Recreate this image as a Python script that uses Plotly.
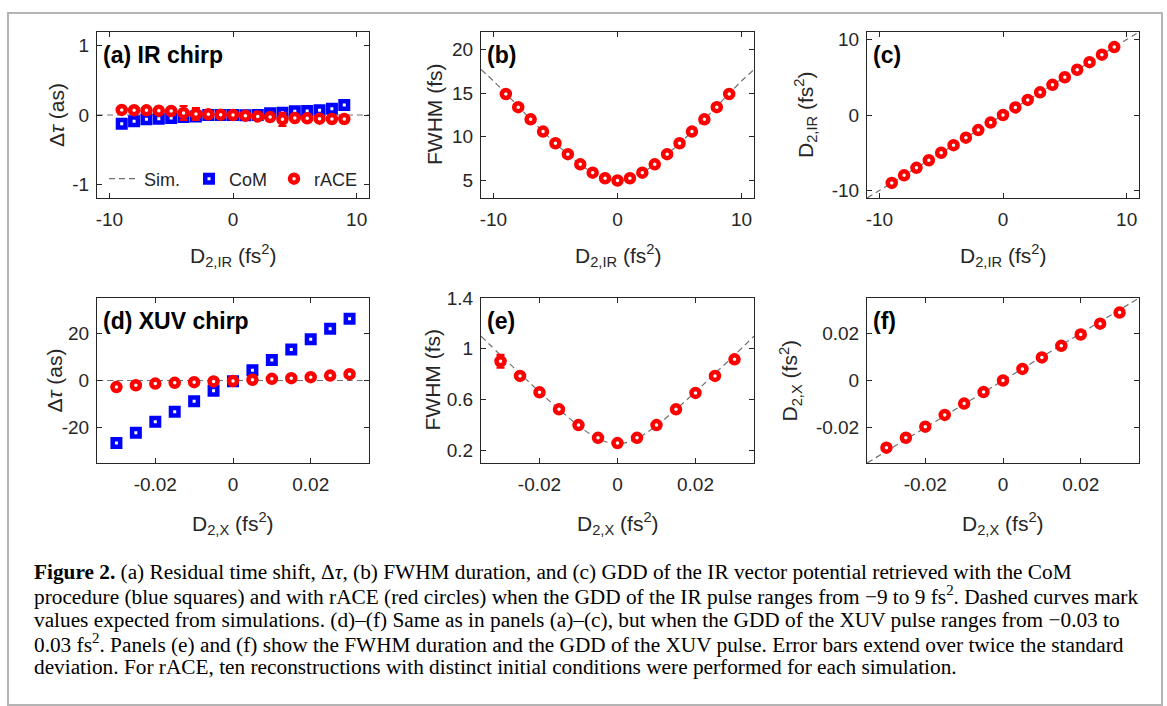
import plotly.graph_objects as go

# ---------------- data ----------------
# IR chirp (panels a-c)
d2_ir = [-9, -8, -7, -6, -5, -4, -3, -2, -1, 0, 1, 2, 3, 4, 5, 6, 7, 8, 9]
com_dtau_ir = [-0.127, -0.092, -0.063, -0.053, -0.044, -0.030, -0.020, 0.000, 0.000, 0.000,
               -0.005, 0.000, 0.024, 0.034, 0.053, 0.058, 0.068, 0.092, 0.146]
com_dtau_ir_err = [0.012, 0.012, 0.012, 0.012, 0.012, 0.012, 0.012, 0.012, 0.012, 0.012,
                   0.012, 0.012, 0.012, 0.015, 0.012, 0.012, 0.012, 0.015, 0.015]
race_dtau_ir = [0.073, 0.070, 0.068, 0.063, 0.058, 0.030, 0.015, 0.010, 0.005, 0.000,
                -0.010, -0.020, -0.030, -0.063, -0.044, -0.048, -0.053, -0.058, -0.058]
race_dtau_ir_err = [0.012, 0.012, 0.015, 0.012, 0.015, 0.100, 0.085, 0.012, 0.012, 0.012,
                    0.012, 0.012, 0.012, 0.095, 0.012, 0.012, 0.012, 0.012, 0.012]
race_fwhm_ir = [14.9, 13.4, 12.0, 10.6, 9.27, 8.02, 6.85, 5.9, 5.26, 5.0,
                5.26, 5.9, 6.85, 8.02, 9.27, 10.6, 12.0, 13.4, 14.9]
race_fwhm_ir_err = [0.12] * 19
race_gdd_ir = [-9.0, -8.0, -7.0, -6.0, -5.0, -4.0, -3.0, -2.0, -1.0, 0.0,
               1.0, 2.0, 3.0, 4.0, 5.0, 6.0, 7.0, 8.0, 9.0]
race_gdd_ir_err = [0.08] * 19

# simulation curves (IR)
sim_ir_x = [-11, -10, -9, -8, -7, -6, -5, -4, -3, -2, -1, 0, 1, 2, 3, 4, 5, 6, 7, 8, 9, 10, 11]
sim_dtau_ir = [0.0] * 23
sim_fwhm_ir = [17.7, 16.4, 14.95, 13.5, 12.0, 10.6, 9.25, 8.0, 6.85, 5.9, 5.24, 5.0,
               5.24, 5.9, 6.85, 8.0, 9.25, 10.6, 12.0, 13.5, 14.95, 16.4, 17.7]
sim_gdd_ir = [-11, -10, -9, -8, -7, -6, -5, -4, -3, -2, -1, 0, 1, 2, 3, 4, 5, 6, 7, 8, 9, 10, 11]

# XUV chirp (panels d-f)
d2_x = [-0.03, -0.025, -0.02, -0.015, -0.01, -0.005, 0.0, 0.005, 0.01, 0.015, 0.02, 0.025, 0.03]
com_dtau_x = [-26.5, -22.2, -17.5, -13.3, -8.8, -4.35, -0.3, 4.35, 8.7, 13.2, 17.5, 22.0, 26.2]
com_dtau_x_err = [0.4] * 13
race_dtau_x = [-2.8, -2.0, -1.3, -1.0, -0.7, -0.4, -0.2, 0.3, 0.7, 1.0, 1.4, 2.1, 2.7]
race_dtau_x_err = [0.4] * 13
race_fwhm_x = [0.902, 0.786, 0.657, 0.523, 0.399, 0.298, 0.257, 0.298, 0.399, 0.523, 0.652, 0.786, 0.917]
race_fwhm_x_err = [0.05, 0.008, 0.008, 0.008, 0.008, 0.008, 0.008, 0.008, 0.008, 0.008, 0.008, 0.008, 0.008]
race_gdd_x = [-0.0285, -0.0243, -0.0196, -0.0146, -0.0098, -0.0049, 0.0, 0.0049, 0.0098,
              0.0147, 0.0195, 0.0241, 0.0288]
race_gdd_x_err = [0.0012, 0.0003, 0.0003, 0.0003, 0.0003, 0.0003, 0.0003, 0.0003, 0.0003,
                  0.0003, 0.0003, 0.0003, 0.0003]

sim_x_x = [-0.035, -0.03, -0.025, -0.02, -0.015, -0.01, -0.005, 0.0,
           0.005, 0.01, 0.015, 0.02, 0.025, 0.03, 0.035]
sim_dtau_x = [0.0] * 15
sim_fwhm_x = [1.10, 0.95, 0.805, 0.66, 0.523, 0.395, 0.293, 0.25,
              0.293, 0.395, 0.523, 0.66, 0.805, 0.95, 1.10]
sim_gdd_x = [-0.035, -0.03, -0.025, -0.02, -0.015, -0.01, -0.005, 0.0,
             0.005, 0.01, 0.015, 0.02, 0.025, 0.03, 0.035]

# tick labels
ir_ticks = [-10, 0, 10]
ir_ticktext = ["-10", "0", "10"]
dtau_ir_ticks = [-1, 0, 1]
dtau_ir_ticktext = ["-1", "0", "1"]
fwhm_ir_ticks = [5, 10, 15, 20]
fwhm_ir_ticktext = ["5", "10", "15", "20"]
x_ticks = [-0.02, 0, 0.02]
x_ticktext = ["-0.02", "0", "0.02"]
dtau_x_ticks = [-20, 0, 20]
dtau_x_ticktext = ["-20", "0", "20"]
fwhm_x_ticks = [0.2, 0.6, 1.0, 1.4]
fwhm_x_ticktext = ["0.2", "0.6", "1", "1.4"]

panel_labels = ["(a) IR chirp", "(b)", "(c)", "(d) XUV chirp", "(e)", "(f)"]
caption_lines = [
    "<b>Figure 2.</b> (a) Residual time shift, Δ<i>τ</i>, (b) FWHM duration, and (c) GDD of the IR vector potential retrieved with the CoM",
    "procedure (blue squares) and with rACE (red circles) when the GDD of the IR pulse ranges from −9 to 9 fs<sup>2</sup>. Dashed curves mark",
    "values expected from simulations. (d)–(f) Same as in panels (a)–(c), but when the GDD of the XUV pulse ranges from −0.03 to",
    "0.03 fs<sup>2</sup>. Panels (e) and (f) show the FWHM duration and the GDD of the XUV pulse. Error bars extend over twice the standard",
    "deviation. For rACE, ten reconstructions with distinct initial conditions were performed for each simulation.",
]

# ---------------- layout geometry (pixels) ----------------
W, H = 1167, 706
cols_px = [(97, 369), (481, 754), (867, 1139)]
rows_px = [(32, 198), (298, 463)]

def px_x(v):
    return v / W

def px_y(v):
    return 1 - v / H

RED = "#ff0000"
BLUE = "#0000ff"
SIMC = "#707070"
AXC = "#262626"
FONT = "Arial, Liberation Sans, Helvetica, sans-serif"

fig = go.Figure()

def sim_trace(x, y, idx, show=False):
    return go.Scatter(x=x, y=y, mode="lines", name="Sim.", showlegend=show,
                      line=dict(color=SIMC, width=1.2, dash="6px,4px", shape="spline"),
                      xaxis="x" + ("" if idx == 1 else str(idx)),
                      yaxis="y" + ("" if idx == 1 else str(idx)),
                      legendrank=1)

def data_trace(x, y, err, idx, name, color, symbol, size, show=False, rank=2):
    return go.Scatter(x=x, y=y, mode="markers", name=name, showlegend=show,
                      marker=dict(symbol=symbol, size=size, color="white",
                                  line=dict(color=color, width=4.5)),
                      error_y=dict(type="data", array=err, visible=True, color=color,
                                   thickness=2.2, width=4),
                      xaxis="x" + ("" if idx == 1 else str(idx)),
                      yaxis="y" + ("" if idx == 1 else str(idx)),
                      legendrank=rank)

# panel a
fig.add_trace(sim_trace(sim_ir_x, sim_dtau_ir, 1, show=True))
fig.add_trace(data_trace(d2_ir, com_dtau_ir, com_dtau_ir_err, 1, "CoM", BLUE, "square", 7.5, show=True, rank=2))
fig.add_trace(data_trace(d2_ir, race_dtau_ir, race_dtau_ir_err, 1, "rACE", RED, "circle", 8, show=True, rank=3))
# panel b
fig.add_trace(sim_trace(sim_ir_x, sim_fwhm_ir, 2))
fig.add_trace(data_trace(d2_ir, race_fwhm_ir, race_fwhm_ir_err, 2, "rACE", RED, "circle", 8))
# panel c
fig.add_trace(sim_trace(sim_ir_x, sim_gdd_ir, 3))
fig.add_trace(data_trace(d2_ir, race_gdd_ir, race_gdd_ir_err, 3, "rACE", RED, "circle", 8))
# panel d
fig.add_trace(sim_trace(sim_x_x, sim_dtau_x, 4))
fig.add_trace(data_trace(d2_x, com_dtau_x, com_dtau_x_err, 4, "CoM", BLUE, "square", 7.5))
fig.add_trace(data_trace(d2_x, race_dtau_x, race_dtau_x_err, 4, "rACE", RED, "circle", 8))
# panel e
fig.add_trace(sim_trace(sim_x_x, sim_fwhm_x, 5))
fig.add_trace(data_trace(d2_x, race_fwhm_x, race_fwhm_x_err, 5, "rACE", RED, "circle", 8))
# panel f
fig.add_trace(sim_trace(sim_x_x, sim_gdd_x, 6))
fig.add_trace(data_trace(d2_x, race_gdd_x, race_gdd_x_err, 6, "rACE", RED, "circle", 8))

axis_common = dict(showgrid=False, zeroline=False, showline=True, linecolor=AXC, linewidth=1,
                   mirror="allticks", ticks="inside", ticklen=5, tickcolor=AXC, tickwidth=1,
                   automargin=False,
                   tickfont=dict(family=FONT, size=19, color=AXC), tickmode="array")

xcfg = [
    (ir_ticks, ir_ticktext, [-11, 11]),
    (ir_ticks, ir_ticktext, [-11, 11]),
    (ir_ticks, ir_ticktext, [-11, 11]),
    (x_ticks, x_ticktext, [-0.035, 0.035]),
    (x_ticks, x_ticktext, [-0.035, 0.035]),
    (x_ticks, x_ticktext, [-0.035, 0.035]),
]
ycfg = [
    (dtau_ir_ticks, dtau_ir_ticktext, [-1.2, 1.2]),
    (fwhm_ir_ticks, fwhm_ir_ticktext, [3, 22]),
    (ir_ticks, ir_ticktext, [-11, 11]),
    (dtau_x_ticks, dtau_x_ticktext, [-35, 35]),
    (fwhm_x_ticks, fwhm_x_ticktext, [0.1, 1.4]),
    (x_ticks, x_ticktext, [-0.035, 0.035]),
]

layout_axes = {}
for i in range(6):
    r, c = divmod(i, 3)
    sfx = "" if i == 0 else str(i + 1)
    x0, x1 = cols_px[c]
    y0, y1 = rows_px[r]
    layout_axes["xaxis" + sfx] = dict(axis_common, domain=[px_x(x0), px_x(x1)],
                                      anchor="y" + sfx, range=xcfg[i][2],
                                      tickvals=xcfg[i][0], ticktext=xcfg[i][1],
                                      ticklabelstandoff=4)
    layout_axes["yaxis" + sfx] = dict(axis_common, domain=[px_y(y1), px_y(y0)],
                                      anchor="x" + sfx, range=ycfg[i][2],
                                      tickvals=ycfg[i][0], ticktext=ycfg[i][1],
                                      ticklabelstandoff=3)

annotations = []
# panel labels
for i, lab in enumerate(panel_labels):
    r, c = divmod(i, 3)
    annotations.append(dict(text="<b>" + lab + "</b>", xref="paper", yref="paper",
                            x=px_x(cols_px[c][0] + 4), y=px_y(rows_px[r][0] + 8),
                            xanchor="left", yanchor="top", showarrow=False,
                            font=dict(family=FONT, size=23, color="black")))

# axis titles
xt_ir = "D<sub>2,IR</sub> (fs<sup>2</sup>)"
xt_x = "D<sub>2,X</sub> (fs<sup>2</sup>)"
ytitles = ["Δ<i>τ</i> (as)", "FWHM (fs)", "D<sub>2,IR</sub> (fs<sup>2</sup>)",
           "Δ<i>τ</i> (as)", "FWHM (fs)", "D<sub>2,X</sub> (fs<sup>2</sup>)"]
ytitle_x = [57, 435, 806, 54, 432, 790]
for i in range(6):
    r, c = divmod(i, 3)
    xc = (cols_px[c][0] + cols_px[c][1]) / 2
    annotations.append(dict(text=xt_ir if r == 0 else xt_x, xref="paper", yref="paper",
                            x=px_x(xc), y=px_y(255 if r == 0 else 523),
                            xanchor="center", yanchor="middle", showarrow=False,
                            font=dict(family=FONT, size=21, color=AXC)))
    yc = (rows_px[r][0] + rows_px[r][1]) / 2
    annotations.append(dict(text=ytitles[i], xref="paper", yref="paper",
                            x=px_x(ytitle_x[i]), y=px_y(yc), textangle=-90,
                            xanchor="center", yanchor="middle", showarrow=False,
                            font=dict(family=FONT, size=21, color=AXC)))

# caption
cap_y = [572, 595.7, 619.5, 643.2, 667]
for line, yy in zip(caption_lines, cap_y):
    annotations.append(dict(text=line, xref="paper", yref="paper", x=px_x(32), y=px_y(yy),
                            xanchor="left", yanchor="middle", showarrow=False, align="left",
                            font=dict(family="Liberation Serif, Times New Roman, serif",
                                      size=21.3, color="black")))

fig.update_layout(
    template="none",
    width=W, height=H, margin=dict(l=0, r=0, t=0, b=0, autoexpand=False),
    paper_bgcolor="white", plot_bgcolor="white",
    showlegend=True,
    legend=dict(orientation="h", x=px_x(104), y=px_y(179), xanchor="left", yanchor="middle",
                bgcolor="rgba(0,0,0,0)", borderwidth=0,
                font=dict(family=FONT, size=18, color=AXC),
                entrywidth=40, entrywidthmode="pixels", traceorder="normal"),
    annotations=annotations,
    shapes=[dict(type="rect", xref="paper", yref="paper", x0=px_x(8), x1=px_x(1162),
                 y0=px_y(705), y1=px_y(13), line=dict(color="#b4b4b4", width=2))],
    **layout_axes,
)

fig.write_html("out.html", config={"displayModeBar": False},
               post_script="document.body.style.margin='0px';")
